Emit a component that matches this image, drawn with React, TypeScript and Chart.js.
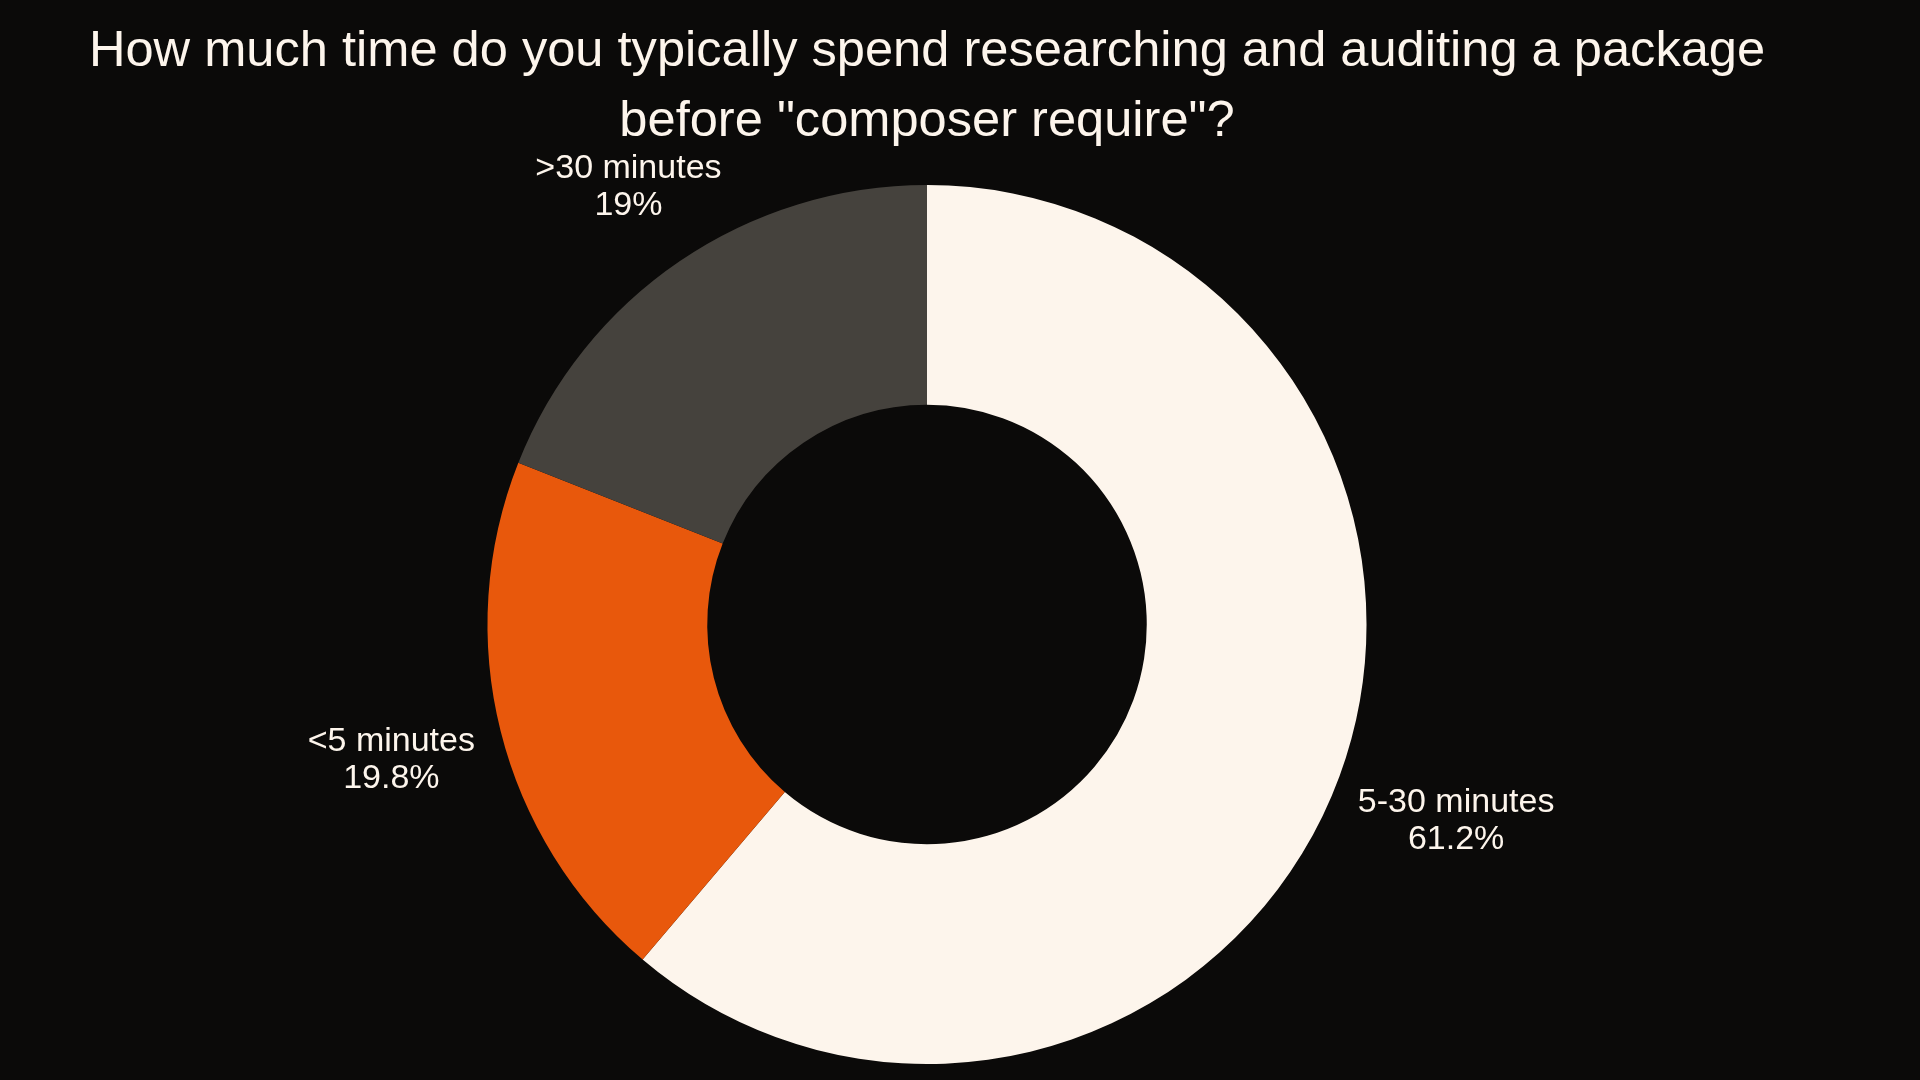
import { useEffect, useRef } from 'react';
import { Chart, registerables } from 'chart.js';

Chart.register(...registerables);

const titleLines = ['How much time do you typically spend researching and auditing a package', 'before "composer require"?'];
const categories = ['5-30 minutes', '<5 minutes', '>30 minutes'];
const shares = [61.2, 19.8, 19];
const sliceColors = ['#fdf5ec', '#e8580c', '#45423d'];

const BG = '#0b0a09';
const TEXT = '#fdf5ec';
const FONT = '"Liberation Sans", Arial, sans-serif';

// labels outside each slice, two lines: name and percent
const outsideLabels = {
  id: 'outsideLabels',
  afterDatasetsDraw(chart) {
    const { ctx } = chart;
    const meta = chart.getDatasetMeta(0);
    const fontSize = 34;
    const lineH = 37;
    const gap = 31;
    ctx.save();
    ctx.font = `${fontSize}px ${FONT}`;
    ctx.fillStyle = TEXT;
    ctx.textAlign = 'center';
    ctx.textBaseline = 'middle';
    meta.data.forEach((arc, i) => {
      const { x, y, startAngle, endAngle, outerRadius } = arc.getProps(['x', 'y', 'startAngle', 'endAngle', 'outerRadius'], true);
      const mid = (startAngle + endAngle) / 2;
      const dx = Math.cos(mid);
      const dy = Math.sin(mid);
      const lines = [categories[i], `${shares[i]}%`];
      const w = Math.max(...lines.map((l) => ctx.measureText(l).width));
      const h = lines.length * lineH;
      const off = outerRadius + gap + Math.hypot(dx * w / 2, dy * h / 2);
      const cx = x + dx * off;
      const cy = y + dy * off + 2;
      lines.forEach((l, j) => {
        ctx.fillText(l, cx, cy - h / 2 + lineH * (j + 0.5));
      });
    });
    ctx.restore();
  },
};

export default function App() {
  const canvasRef = useRef(null);

  useEffect(() => {
    document.body.style.margin = '0';
    document.body.style.background = BG;

    const chart = new Chart(canvasRef.current, {
      type: 'doughnut',
      data: {
        labels: categories,
        datasets: [
          {
            data: shares,
            backgroundColor: sliceColors,
            borderWidth: 0,
          },
        ],
      },
      options: {
        responsive: true,
        maintainAspectRatio: false,
        animation: false,
        cutout: '50%',
        layout: { padding: { left: 0, right: 66, top: 0, bottom: 16 } },
        plugins: {
          legend: { display: false },
          tooltip: { enabled: false },
          title: {
            display: true,
            text: titleLines,
            color: TEXT,
            font: { family: FONT, size: 50.6, weight: 'normal', lineHeight: 1.383 },
            padding: { top: 17, bottom: 28 },
          },
        },
      },
      plugins: [outsideLabels],
    });

    return () => {
      chart.destroy();
    };
  }, []);

  return (
    <div style={{ position: 'fixed', left: 0, top: 0, width: 1920, height: 1080, background: BG }}>
      <canvas ref={canvasRef} />
    </div>
  );
}
